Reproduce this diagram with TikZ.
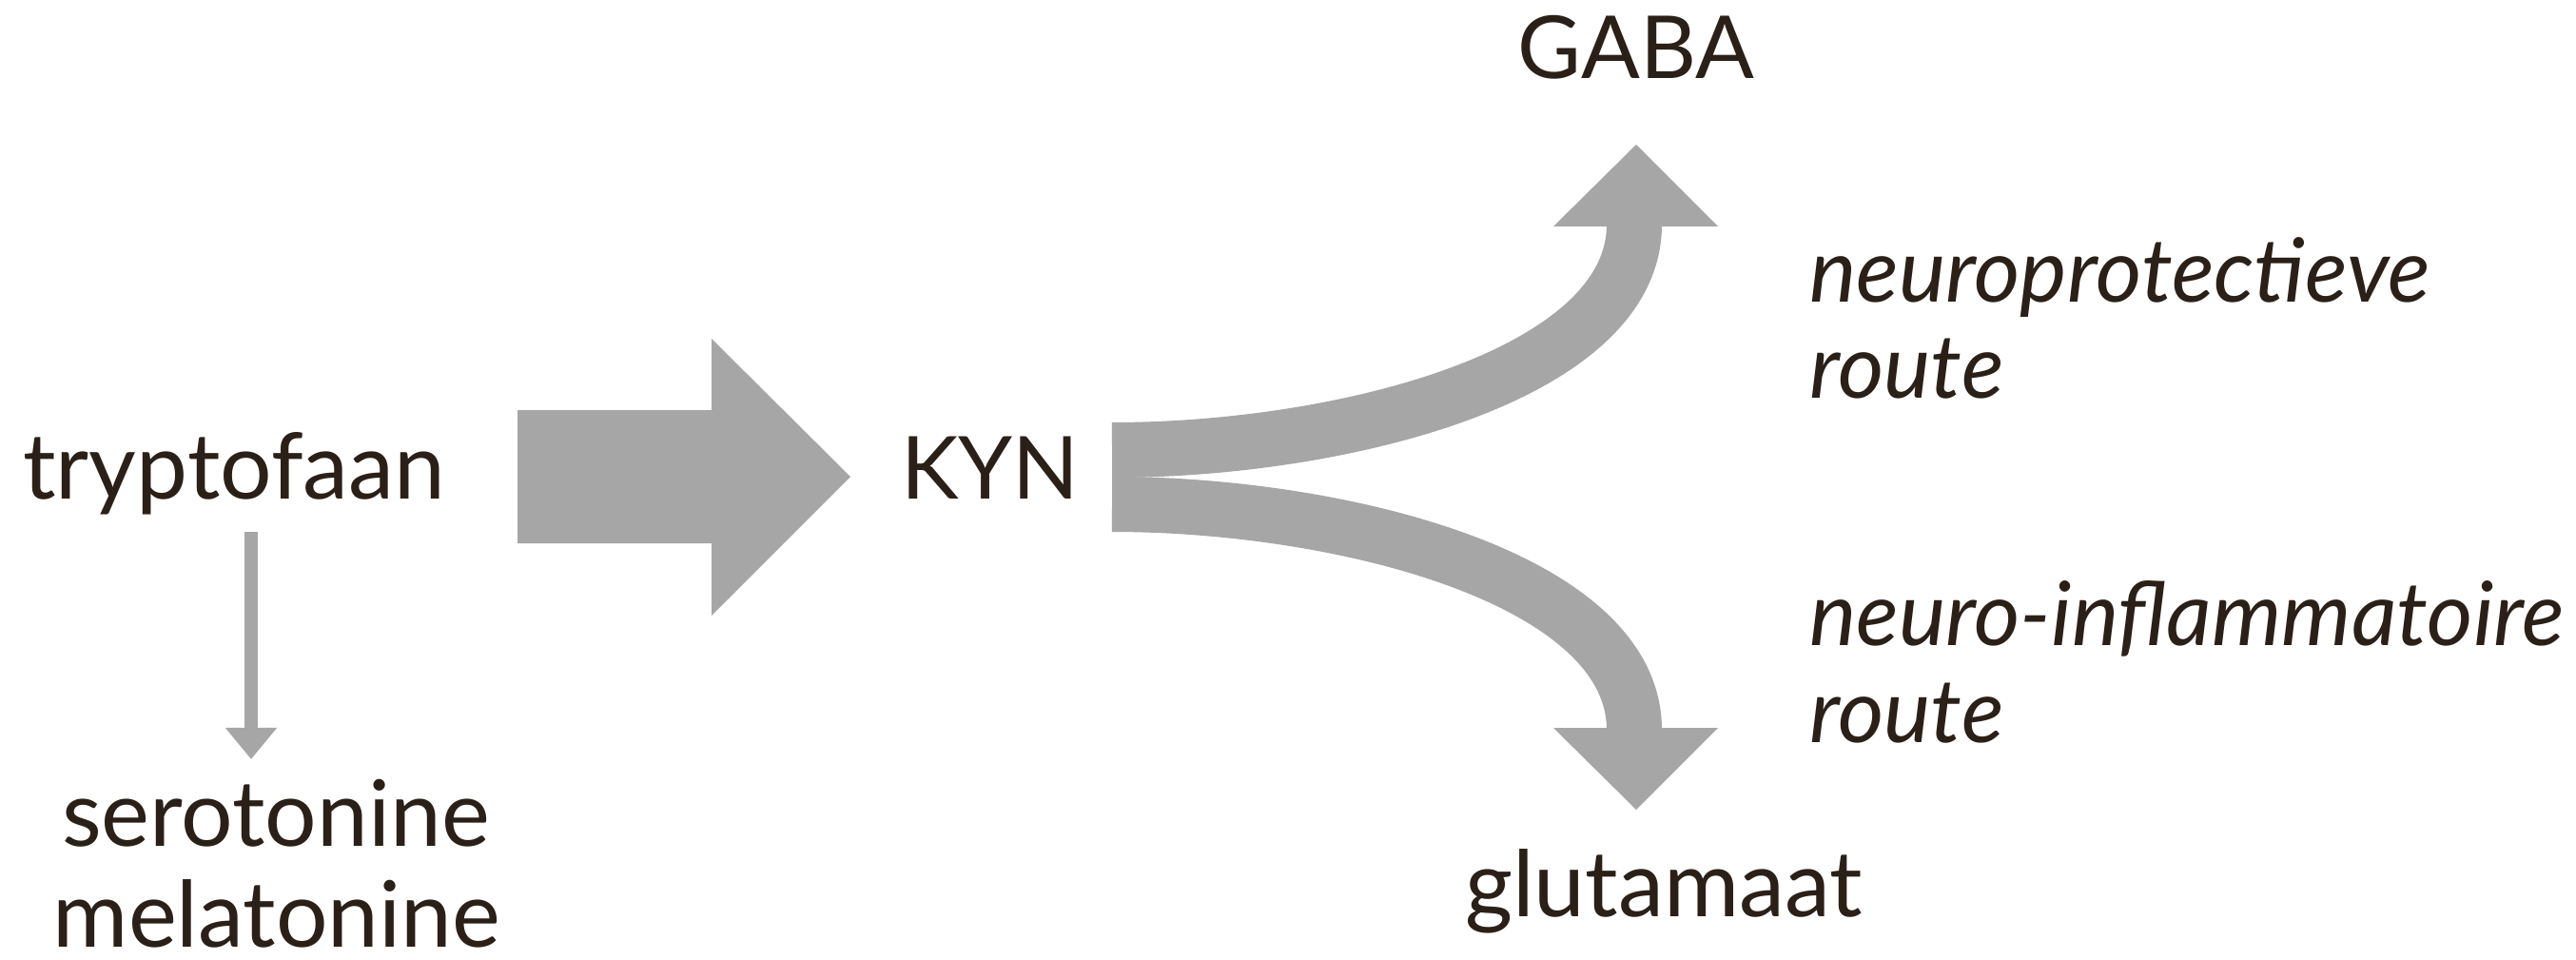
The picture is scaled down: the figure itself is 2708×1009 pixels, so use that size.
\documentclass[tikz,border=0pt]{standalone}
\usepackage{fontspec}
\setmainfont{Lato}
\usetikzlibrary{arrows.meta}
\definecolor{txt}{RGB}{43,32,24}
\definecolor{arrowgray}{RGB}{166,166,166}
\begin{document}
\begin{tikzpicture}[x=0.01cm,y=-0.01cm,
  lbl/.style={inner sep=0pt,outer sep=0pt,text=txt,font=\fontsize{26}{30}\selectfont},
  llbl/.style={inner sep=0pt,outer sep=0pt,text=txt,font=\fontsize{27.4}{30}\selectfont},
  ilbl/.style={inner sep=0pt,outer sep=0pt,text=txt,font=\fontsize{26.5}{30}\selectfont\itshape,anchor=base west},
  band/.style={draw=arrowgray,line width=0.58cm,line cap=butt},
  head/.style={fill=arrowgray,draw=none}]
\useasboundingbox (0,0) rectangle (2708,1009);
% text nodes
\node[llbl,anchor=base] (tryp) at (246,524) {tryptofaan};
\node[lbl,anchor=base] (kyn) at (1041,524) {KYN};
\node[lbl,anchor=base] (gaba) at (1720,82) {GABA};
\node[llbl,anchor=base] (glu) at (1749,963) {glutamaat};
\node[llbl,anchor=base] (sero) at (290,889) {serotonine};
\node[llbl,anchor=base] (mela) at (291,995) {melatonine};
\node[ilbl] (np1) at (1902,317) {neuroprotectieve};
\node[ilbl] (np2) at (1902,418) {route};
\node[ilbl] (ni1) at (1902,678) {neuro-inflammatoire};
\node[ilbl] (ni2) at (1902,780) {route};
% big arrow tryptofaan -> KYN
\coordinate (bigstart) at (544,501);
\coordinate (bigtip) at (894,501);
\fill[arrowgray] (bigstart) ++(0,-70) -- ++(204,0) -- ++(0,-75) -- (bigtip)
  -- (748,647) -- ++(0,-76) -- (544,571) -- cycle;
% small arrow tryptofaan -> serotonine
\coordinate (sstart) at (264,559);
\coordinate (send) at (264,798);
\draw[arrowgray,line width=0.14cm,-{Triangle[width=0.52cm,length=0.33cm]}] (sstart) -- (send);
% branching arrows from KYN
\coordinate (kup) at (1169,473);
\coordinate (kdn) at (1169,530);
\coordinate (upend) at (1718,236);
\coordinate (dnend) at (1718,767);
\draw[band] (kup) .. controls (1410,473) and (1718,395) .. (upend);
\draw[band] (kdn) .. controls (1410,530) and (1718,608) .. (dnend);
\fill[head] (1633,238) -- (1806,238) -- (1720,152) -- cycle;
\fill[head] (1633,765) -- (1806,765) -- (1720,851) -- cycle;
\end{tikzpicture}
\end{document}
